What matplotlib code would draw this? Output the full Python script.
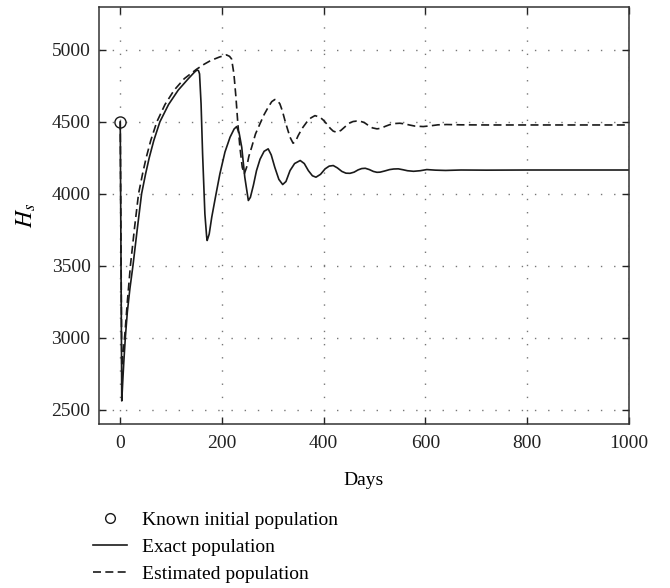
import matplotlib
matplotlib.use("Agg")
import matplotlib.pyplot as plt
from matplotlib.lines import Line2D

plt.rcParams['font.family'] = ['Liberation Serif', 'DejaVu Serif']
plt.rcParams['mathtext.fontset'] = 'stix'

# known initial population
t0 = [0]
h0 = [4500]

# exact population
t_exact = [0, 3, 5, 7, 10, 14, 19, 25, 33, 42, 50, 57, 66, 78, 95, 114, 134, 146, 151,
           154, 156, 159, 162, 166.5, 170, 171, 175, 180, 188, 196, 206, 216, 224, 229,
           234, 239, 245, 252, 256, 262, 268, 275, 283, 291, 297, 304, 312, 319.5, 326,
           334, 343, 354, 362, 370, 378, 385, 394, 403, 411, 419, 427, 436, 444, 452,
           460, 468, 475, 482, 490, 498, 505, 511, 520, 530, 538, 547, 556, 565, 577,
           590, 603, 620, 640, 670, 720, 800, 900, 1000]
h_exact = [4500, 2560, 2700, 2830, 3000, 3180, 3340, 3500, 3740, 4000, 4140, 4250, 4370, 4500, 4620, 4720, 4800, 4845, 4860,
           4855, 4833, 4625, 4277, 3860, 3700, 3675, 3720, 3837, 3990, 4138, 4290, 4393, 4450, 4467,
           4420, 4323, 4115, 3953, 3975, 4060, 4160, 4240, 4295, 4312, 4270, 4184, 4100, 4064, 4085,
           4161, 4210, 4231, 4210, 4161, 4125, 4115, 4135, 4173, 4192, 4196, 4180, 4155, 4143, 4142,
           4150, 4166, 4175, 4177, 4168, 4155, 4149, 4150, 4158, 4168, 4172, 4173, 4167, 4160, 4156,
           4160, 4168, 4164, 4162, 4165, 4164, 4165, 4165, 4165]

# estimated population
t_est = [0, 3, 6, 9, 14, 20, 28, 36, 44, 51, 60, 72, 88, 106, 126, 150, 165, 178, 195, 209,
         215, 219, 223.6, 227.6, 230.9, 235.4, 240, 244, 248.6, 253, 258.5, 266, 274.8, 283, 291,
         298, 304, 309, 314, 319, 324, 329, 334, 340, 345, 350, 358, 366.7, 375, 383, 393, 400,
         406, 413, 419, 426, 434, 442, 450, 458, 465, 472, 480, 488, 496, 505, 513, 521, 530,
         540, 550, 560, 570, 580, 596, 610, 625, 642, 670, 720, 800, 900, 1000]
h_est = [4500, 2800, 2900, 3020, 3250, 3500, 3760, 4000, 4140, 4250, 4370, 4500, 4620, 4720, 4800, 4865, 4900, 4926, 4950, 4965,
         4955, 4937, 4833, 4671, 4509, 4323, 4184, 4138, 4184, 4260, 4323, 4415, 4486, 4550, 4601,
         4640, 4655, 4648, 4625, 4575, 4509, 4450, 4393, 4351, 4365, 4404, 4455, 4497, 4527, 4543, 4532, 4510,
         4486, 4455, 4435, 4427, 4440, 4465, 4490, 4502, 4505, 4504, 4495, 4475, 4458, 4451, 4455, 4468, 4480,
         4488, 4490, 4485, 4477, 4470, 4467, 4472, 4479, 4481, 4479, 4478, 4478, 4478, 4478]

xticks = [0, 200, 400, 600, 800, 1000]
yticks = [2500, 3000, 3500, 4000, 4500, 5000]

fig = plt.figure(figsize=(6.7, 5.88), dpi=100)
ax = fig.add_axes([0.1476, 0.279, 0.9382 - 0.1476, 0.9886 - 0.279])

dash = (0, (4.8, 2.6))
ax.plot(t_exact, h_exact, color='#1a1a1a', lw=1.2, ls='-')
ax.plot(t_est, h_est, color='#1a1a1a', lw=1.2, ls=dash)
ax.plot(t0, h0, 'o', ms=8, mfc='none', mec='#1a1a1a', mew=1.0)

ax.set_xlim(-42, 1000)
ax.set_ylim(2400, 5300)
ax.set_xticks(xticks)
ax.set_yticks(yticks)
ax.grid(True, ls=(0, (1, 8.5)), color='#777777', lw=1.0)
ax.tick_params(direction='in', top=True, right=True, length=5, width=1,
               labelsize=14, colors='#222222')
ax.tick_params(axis='x', pad=8)
ax.tick_params(axis='y', pad=6)
for s in ax.spines.values():
    s.set_linewidth(1.1)
    s.set_color('#333333')

ax.set_xlabel('Days', fontsize=14, labelpad=14)
ax.set_ylabel(r'$H_s$', fontsize=17, labelpad=10)

handles = [
    Line2D([], [], ls='none', marker='o', ms=7, mfc='none', mec='#1a1a1a', mew=1.0),
    Line2D([], [], color='#1a1a1a', lw=1.2),
    Line2D([], [], color='#1a1a1a', lw=1.2, ls=dash),
]
labels = ['Known initial population', 'Exact population', 'Estimated population']
fig.legend(handles, labels, loc='upper left', bbox_to_anchor=(93 / 670, 1 - 511 / 588),
           frameon=False, fontsize=14, handlelength=1.75, handletextpad=0.75,
           labelspacing=0.5, borderpad=0, borderaxespad=0)

fig.savefig('out.png', dpi=100)
